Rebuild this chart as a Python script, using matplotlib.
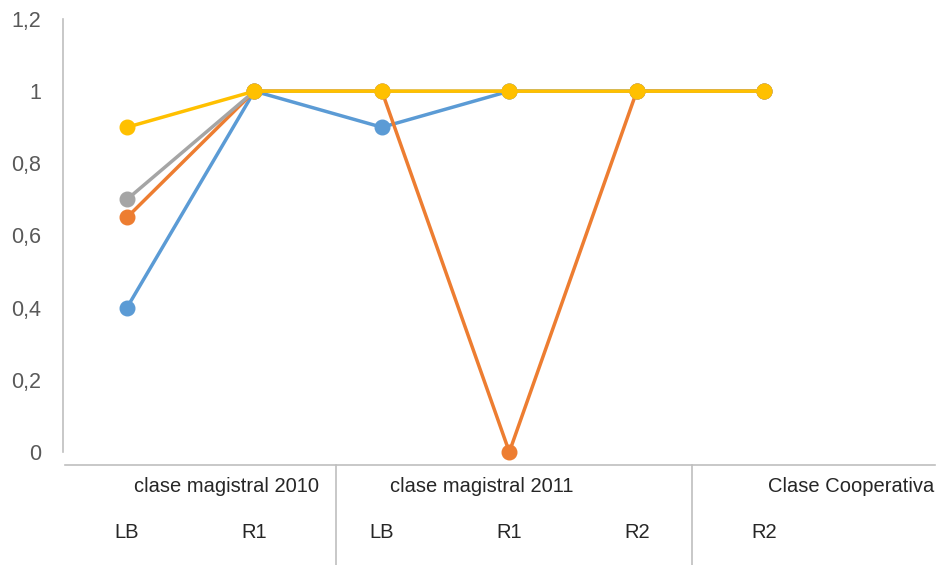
import matplotlib
matplotlib.use("Agg")
import matplotlib.pyplot as plt
from matplotlib.lines import Line2D
from matplotlib.ticker import FuncFormatter

# data
categories = ["LB", "R1", "LB", "R1", "R2", "R2"]
groups = ["clase magistral 2010", "clase magistral 2011", "Clase Cooperativa"]
group_pos = [0.78, 2.78, 5.68]          # label centers, in category units
separators = [1.64, 4.43]               # group divider positions
blue = [0.4, 1, 0.9, 1, 1, 1]
orange = [0.65, 1, 1, 0, 1, 1]
gray = [0.7, 1, 1, 1, 1, 1]
yellow = [0.9, 1, 1, 1, 1, 1]
yticks = [0, 0.2, 0.4, 0.6, 0.8, 1, 1.2]

W, H = 942, 565
fig = plt.figure(figsize=(W / 100, H / 100), dpi=100)
plt.rcParams['font.family'] = ['Liberation Sans', 'DejaVu Sans']

# axes placed in pixel terms: x 63..935, y 19..452
ax = fig.add_axes([63 / W, 1 - 452 / H, (935 - 63) / W, (452 - 19) / H])
ax.set_xlim(-0.502, 6.34)
ax.set_ylim(0, 1.2)

txt = '#595959'
axis_col = '#BFBFBF'
x = list(range(len(categories)))
for vals, col in [(blue, '#5B9BD5'), (orange, '#ED7D31'), (gray, '#A5A5A5'), (yellow, '#FFC000')]:
    ax.plot(x, vals, color=col, lw=2.5, marker='o', markersize=10.5, clip_on=False, zorder=3)

# y axis
ax.set_yticks(yticks)
ax.yaxis.set_major_formatter(FuncFormatter(lambda v, p: ('%g' % v).replace('.', ',')))
ax.tick_params(axis='y', length=0, pad=16, labelsize=15.5, labelcolor=txt)
ax.set_xticks([])
for s in ['top', 'right', 'bottom']:
    ax.spines[s].set_visible(False)
ax.spines['left'].set_color(axis_col)
ax.spines['left'].set_linewidth(1.2)

# bottom category axis (sits slightly below zero, Excel style)
def px(xv):
    return ax.transData.transform((xv, 0))[0] / W

fig.add_artist(Line2D([65 / W, 935 / W], [1 - 465 / H] * 2, color=axis_col, lw=1.2))
for s in separators:
    fig.add_artist(Line2D([px(s)] * 2, [0, 1 - 465 / H], color=axis_col, lw=1.2))

for g, gp in zip(groups, group_pos):
    fig.text(px(gp), 1 - 487 / H, g, ha='center', va='center', fontsize=14.5, color='#262626')
for i, c in enumerate(categories):
    fig.text(px(i), 1 - 532 / H, c, ha='center', va='center', fontsize=14.5, color='#262626')

fig.savefig("out.png", dpi=100)
